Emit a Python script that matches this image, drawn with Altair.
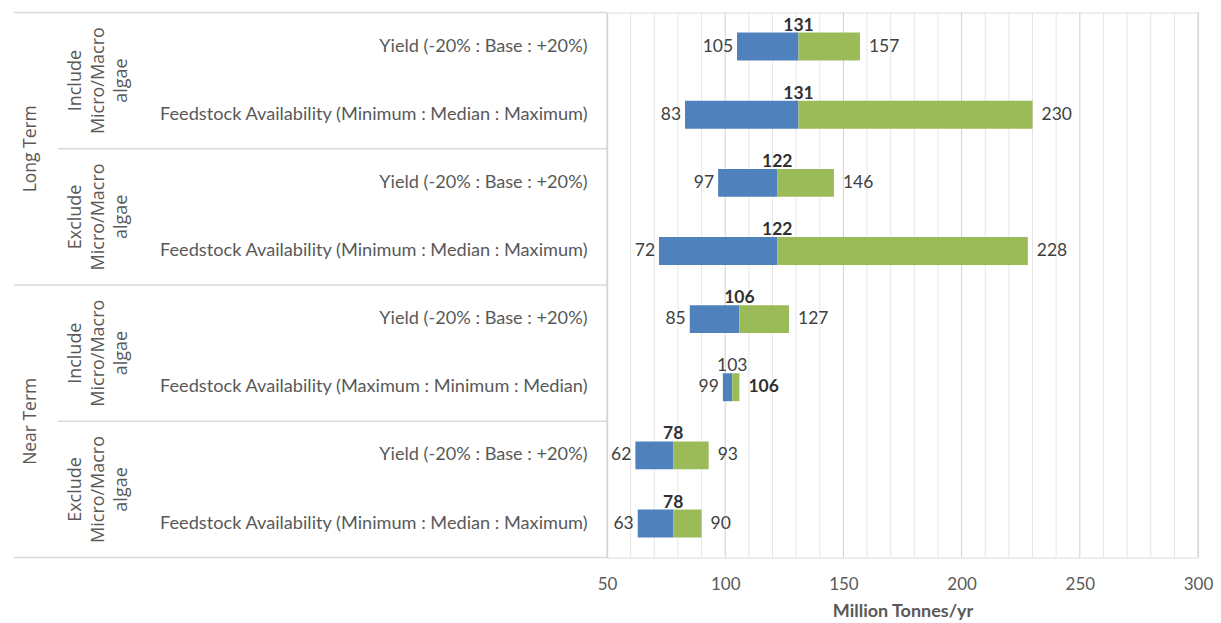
import altair as alt
import pandas as pd

# ---- data ----
categories = [
    "Yield (-20% : Base : +20%)",
    "Feedstock Availability (Minimum : Median : Maximum)",
    "Yield (-20% : Base : +20%)",
    "Feedstock Availability (Minimum : Median : Maximum)",
    "Yield (-20% : Base : +20%)",
    "Feedstock Availability (Maximum : Minimum : Median)",
    "Yield (-20% : Base : +20%)",
    "Feedstock Availability (Minimum : Median : Maximum)",
]
low = [105, 83, 97, 72, 85, 99, 62, 63]
mid = [131, 131, 122, 122, 106, 103, 78, 78]
high = [157, 230, 146, 228, 127, 106, 93, 90]
low_bold = [False] * 8
mid_bold = [True, True, True, True, True, False, True, True]
high_bold = [False, False, False, False, False, True, False, False]
terms = ["Long Term", "Near Term"]
subgroups = ["Include\nMicro/Macro\nalgae", "Exclude\nMicro/Macro\nalgae",
             "Include\nMicro/Macro\nalgae", "Exclude\nMicro/Macro\nalgae"]
grid_values = list(range(50, 301, 10))
label_values = [50, 100, 150, 200, 250, 300]

keys = [f"{i}|{c}" for i, c in enumerate(categories)]
df = pd.DataFrame({"row": keys, "low": low, "mid": mid, "high": high})

lab_rows = []
for i, k in enumerate(keys):
    lab_rows.append({"row": k, "pos": "left", "value": low[i], "bold": low_bold[i]})
    lab_rows.append({"row": k, "pos": "top", "value": mid[i], "bold": mid_bold[i]})
    lab_rows.append({"row": k, "pos": "right", "value": high[i], "bold": high_bold[i]})
labels = pd.DataFrame(lab_rows)

grid_df = pd.DataFrame({"v": grid_values, "major": [v % 50 == 0 for v in grid_values]})
sub_df = pd.DataFrame({"row": [keys[0], keys[2], keys[4], keys[6]], "text": subgroups})
term_df = pd.DataFrame({"row": [keys[1], keys[5]], "text": terms})
full_bottom = pd.DataFrame({"row": [keys[3], keys[7]]})
part_bottom = pd.DataFrame({"row": [keys[1], keys[5]]})
top_line = pd.DataFrame({"row": [keys[0]]})

BLUE = "#4F81BD"
GREEN = "#9BBB59"
LINE = "#d9d9d9"
TXT = "#595959"
VAL = "#404040"
FONT = "Lato"
GFONT = "Open Sans"
H = 546
W = 592
LEFT = 594

yscale = alt.Scale(domain=keys, paddingInner=0, paddingOuter=0)
xscale = alt.Scale(domain=[50, 300], nice=False, zero=False)

def Y(**kw):
    return alt.Y("row:N", scale=yscale, sort=keys, title=None, **kw)

# gridlines (minor + major), carrying the x axis
minor = alt.Chart(grid_df).transform_filter("!datum.major").mark_rule(
    color="#e6e6e6", strokeWidth=1).encode(
    x=alt.X("v:Q", scale=xscale, title="Million Tonnes/yr",
            axis=alt.Axis(values=label_values, grid=False, domain=False, ticks=False,
                          labelPadding=19, labelFontSize=17, labelColor=TXT,
                          labelFont=FONT, labelOverlap=False, labelFlush=False,
                          titleFont=FONT, titleFontSize=18, titleColor=TXT,
                          titleFontWeight="bold", titlePadding=10)),
)
major = alt.Chart(grid_df).transform_filter("datum.major").mark_rule(
    color="#d0d0d0", strokeWidth=1).encode(
    x=alt.X("v:Q", scale=xscale),
)

base = alt.Chart(df)
blue = base.mark_bar(color=BLUE, height={"band": 0.41}).encode(
    y=alt.Y("row:N", scale=yscale, sort=keys, title=None,
            axis=alt.Axis(labelExpr="split(datum.label, '|')[1]", labelPadding=20,
                          ticks=False, domainColor=LINE, domainWidth=1.5,
                          labelFontSize=18.2, labelColor=TXT, labelLimit=700,
                          labelFont=FONT, grid=False)),
    x=alt.X("low:Q", scale=xscale),
    x2="mid:Q",
)
green = base.mark_bar(color=GREEN, height={"band": 0.41}).encode(
    y=Y(), x=alt.X("mid:Q", scale=xscale), x2="high:Q"
)

layers = [minor, major, blue, green]

pos_cfg = {
    "left": dict(align="right", baseline="middle", dx=-4, dy=0),
    "right": dict(align="left", baseline="middle", dx=9, dy=0),
    "top": dict(align="center", baseline="alphabetic", dx=0, dy=-16),
}
for pos, cfg in pos_cfg.items():
    for b in (True, False):
        layers.append(
            alt.Chart(labels).transform_filter(
                f"datum.pos === '{pos}' && datum.bold === {'true' if b else 'false'}"
            ).mark_text(font=FONT, fontSize=17.5, color="#303030" if b else VAL,
                        fontWeight="bold" if b else "normal", **cfg).encode(
                y=Y(), x=alt.X("value:Q", scale=xscale), text="value:Q"
            )
        )

# group labels (rotated)
layers.append(
    alt.Chart(sub_df).mark_text(font=GFONT, fontSize=18, color=TXT, angle=270,
                                lineBreak="\n", lineHeight=23, align="center",
                                baseline="middle").encode(
        y=alt.Y("row:N", scale=yscale, sort=keys, title=None, bandPosition=1),
        x=alt.value(-532), text="text:N")
)
layers.append(
    alt.Chart(term_df).mark_text(font=GFONT, fontSize=17.5, color=TXT, angle=270,
                                 align="center", baseline="middle").encode(
        y=alt.Y("row:N", scale=yscale, sort=keys, title=None, bandPosition=1),
        x=alt.value(-577), text="text:N")
)

# table borders
layers.append(
    alt.Chart(top_line).mark_rule(color=LINE, strokeWidth=1.5).encode(
        y=alt.Y("row:N", scale=yscale, sort=keys, title=None, bandPosition=0),
        x=alt.value(-LEFT), x2=alt.value(0))
)
layers.append(
    alt.Chart(full_bottom).mark_rule(color=LINE, strokeWidth=1.5).encode(
        y=alt.Y("row:N", scale=yscale, sort=keys, title=None, bandPosition=1),
        x=alt.value(-LEFT), x2=alt.value(0))
)
layers.append(
    alt.Chart(part_bottom).mark_rule(color=LINE, strokeWidth=1.5).encode(
        y=alt.Y("row:N", scale=yscale, sort=keys, title=None, bandPosition=1),
        x=alt.value(-550), x2=alt.value(0))
)

chart = alt.layer(*layers).properties(
    width=W, height=H,
    padding={"left": 5, "top": 3, "right": 0, "bottom": 0},
).configure_view(stroke=None).configure(font=FONT)

chart.save("out.html", embed_options={"renderer": "svg", "actions": False})
